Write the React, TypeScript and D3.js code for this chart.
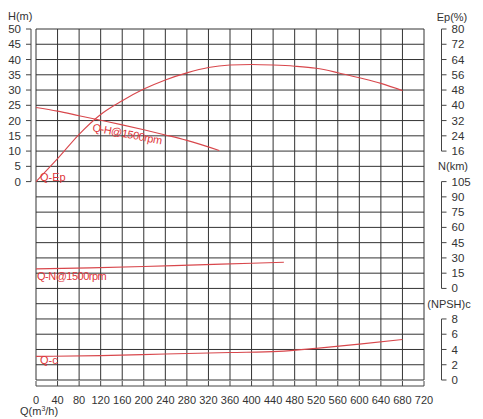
import React from "react";
import * as d3 from "d3";

const qTicks = [0, 40, 80, 120, 160, 200, 240, 280, 320, 360, 400, 440, 480, 520, 560, 600, 640, 680, 720];
const hTicks = [0, 5, 10, 15, 20, 25, 30, 35, 40, 45, 50];
const epTicks = [16, 24, 32, 40, 48, 56, 64, 72, 80];
const nTicks = [0, 15, 30, 45, 60, 75, 90, 105];
const npshTicks = [0, 2, 4, 6, 8];

// Q-H curve
const qhQ = [0, 40, 80, 120, 160, 200, 240, 280, 340];
const qhH = [24.3, 23.1, 21.6, 20.1, 18.6, 17.0, 15.3, 13.5, 10.2];

// Q-Ep curve
const qeQ = [0, 40, 80, 120, 160, 200, 240, 280, 320, 360, 400, 440, 480, 520, 560, 600, 640, 680];
const qeEp = [0, 12, 24.8, 35.2, 42.4, 48.5, 53.3, 57, 59.8, 61.1, 61.4, 61.1, 60.5, 59.4, 57.1, 54.4, 51.5, 47.7];

// Q-N curve
const qnQ = [0, 100, 200, 300, 400, 460];
const qnN = [19.2, 20.2, 21.5, 23.2, 24.7, 25.8];

// Q-(NPSH)c curve
const qcQ = [0, 120, 240, 360, 450, 520, 600, 680];
const qcV = [3.1, 3.2, 3.4, 3.6, 3.75, 4.15, 4.7, 5.3];

const W = 483;
const H = 419;
const FONT = "'Liberation Sans', Arial, Helvetica, sans-serif";
const RED = "#d8474c";
const TXTRED = "#e0363a";
const GRID = "#333";
const AXIS = "#444";
const TXT = "#333";

export default function App() {
  const top = 29;
  const bottom = 380;
  const rowH = (bottom - top) / 23;
  const row = (i: number) => top + i * rowH;

  const x = d3.scaleLinear().domain([0, 720]).range([36, 424]);
  const yH = d3.scaleLinear().domain([0, 50]).range([row(10), row(0)]);
  const yEp = d3.scaleLinear().domain([0, 80]).range([row(10), row(0)]);
  const yN = d3.scaleLinear().domain([0, 105]).range([row(17), row(10)]);
  const yC = d3.scaleLinear().domain([0, 8]).range([row(23), row(19)]);

  const mk = (xs: number[], ys: number[], ys2: d3.ScaleLinear<number, number>) =>
    d3
      .line<number>()
      .x((_, i) => x(xs[i]))
      .y((_, i) => ys2(ys[i]))
      .curve(d3.curveMonotoneX)(xs) as string;

  const rows = d3.range(0, 24);
  const axR = 441.5;

  const rightAxis = (ticks: number[], scale: d3.ScaleLinear<number, number>) => {
    const y0 = scale(d3.min(ticks) as number);
    const y1 = scale(d3.max(ticks) as number);
    return (
      <g>
        <line x1={axR} x2={axR} y1={y1} y2={y0} stroke={AXIS} strokeWidth={1} />
        {ticks.map((t) => (
          <g key={t}>
            <line x1={axR} x2={axR + 5} y1={scale(t)} y2={scale(t)} stroke={AXIS} strokeWidth={1} />
            <text x={axR + 10} y={scale(t)} dy="0.35em" fontSize={11.5} fill={TXT}>
              {t}
            </text>
          </g>
        ))}
      </g>
    );
  };

  return (
    <svg
      width={W}
      height={H}
      style={{ position: "absolute", left: 0, top: 0, background: "#fff" }}
      fontFamily={FONT}
    >
      <rect x={0} y={0} width={W} height={H} fill="#fff" />
      {/* grid */}
      <g>
        {rows.map((i) => (
          <line key={"h" + i} x1={x(0)} x2={x(720)} y1={row(i)} y2={row(i)} stroke={GRID} strokeWidth={1} />
        ))}
        {qTicks.map((q) => (
          <line key={"v" + q} x1={x(q)} x2={x(q)} y1={row(0)} y2={row(23)} stroke={GRID} strokeWidth={1} />
        ))}
      </g>

      {/* left H axis */}
      <g>
        <line x1={31} x2={31} y1={yH(50)} y2={yH(0)} stroke={AXIS} strokeWidth={1} />
        {hTicks.map((t) => (
          <g key={t}>
            <line x1={26} x2={31} y1={yH(t)} y2={yH(t)} stroke={AXIS} strokeWidth={1} />
            <text x={21} y={yH(t)} dy="0.35em" textAnchor="end" fontSize={11.5} fill={TXT}>
              {t}
            </text>
          </g>
        ))}
        <text x={8} y={16} dy="0.35em" fontSize={11} fill={TXT}>
          H(m)
        </text>
      </g>

      {/* right axes */}
      <text x={452} y={17} dy="0.35em" textAnchor="middle" fontSize={11} fill={TXT}>
        Ep(%)
      </text>
      {rightAxis(epTicks, yEp)}
      <text x={453} y={row(9)} dy="0.35em" textAnchor="middle" fontSize={11} fill={TXT}>
        N(km)
      </text>
      {rightAxis(nTicks, yN)}
      <text x={449} y={row(18)} dy="0.35em" textAnchor="middle" fontSize={11} fill={TXT}>
        (NPSH)c
      </text>
      {rightAxis(npshTicks, yC)}

      {/* bottom axis */}
      <g>
        <line x1={x(0)} x2={x(720)} y1={386} y2={386} stroke={AXIS} strokeWidth={1} />
        {qTicks.map((q) => (
          <g key={q}>
            <line x1={x(q)} x2={x(q)} y1={381} y2={386} stroke={AXIS} strokeWidth={1} />
            <text x={x(q)} y={400} dy="0.35em" textAnchor="middle" fontSize={11} fill={TXT}>
              {q}
            </text>
          </g>
        ))}
        <text x={20} y={411} dy="0.35em" fontSize={11} fill={TXT}>
          Q(m<tspan fontSize={7} dy={-4}>3</tspan>
          <tspan dy={4}>/h)</tspan>
        </text>
      </g>

      {/* curves */}
      <g fill="none" stroke={RED} strokeWidth={1.1}>
        <path d={mk(qhQ, qhH, yH)} />
        <path d={mk(qeQ, qeEp, yEp)} />
        <path d={mk(qnQ, qnN, yN)} />
        <path d={mk(qcQ, qcV, yC)} />
      </g>

      {/* labels */}
      <g fill={TXTRED} fontSize={11}>
        <text transform={`translate(92,131) rotate(11)`} letterSpacing={-0.4}>
          Q-H@1500rpm
        </text>
        <text x={40} y={181}>Q-Ep</text>
        <text x={37} y={280} letterSpacing={-0.5}>
          Q-N@1500rpm
        </text>
        <text x={40} y={364}>Q-c</text>
      </g>
    </svg>
  );
}
